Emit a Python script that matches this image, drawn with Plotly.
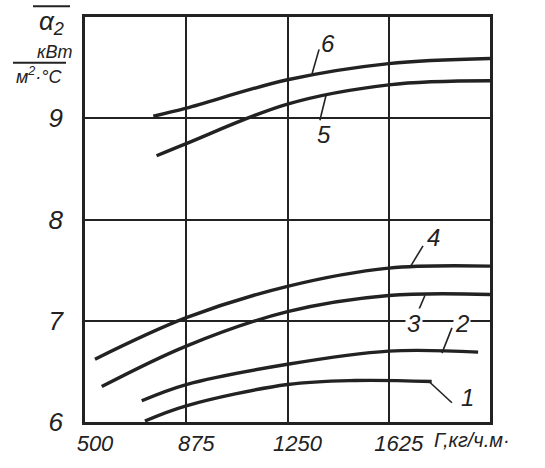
import plotly.graph_objects as go

# Data
x_ticks = [500, 875, 1250, 1625]
y_ticks = [6, 7, 8, 9]

curves = {
    "1": ([722, 875, 1250, 1500, 1784], [6.01, 6.16, 6.37, 6.41, 6.40]),
    "2": ([710, 875, 1250, 1625, 1956], [6.21, 6.37, 6.57, 6.70, 6.69]),
    "3": ([562, 875, 1250, 1625, 2000], [6.35, 6.75, 7.09, 7.25, 7.26]),
    "4": ([537, 875, 1250, 1625, 2000], [6.62, 7.03, 7.34, 7.52, 7.54]),
    "5": ([765, 875, 1250, 1625, 2000], [8.63, 8.75, 9.14, 9.33, 9.37]),
    "6": ([753, 875, 1250, 1625, 2000], [9.02, 9.10, 9.38, 9.54, 9.59]),
}

# label: (leader start x,y), (leader end x,y), (text x,y)
labels = {
    "6": ((1341, 9.44), (1367, 9.68), (1400, 9.74)),
    "5": ((1393, 9.23), (1370, 8.98), (1385, 8.84)),
    "4": ((1704, 7.53), (1752, 7.74), (1789, 7.82)),
    "3": ((1759, 7.25), (1735, 7.10), (1718, 6.97)),
    "2": ((1822, 6.68), (1859, 6.93), (1896, 6.97)),
    "1": ((1778, 6.39), (1859, 6.19), (1915, 6.24)),
}

INK = "#222222"
FONT = "Liberation Sans, Arial, sans-serif"

fig = go.Figure()
for name, (xs, ys) in curves.items():
    fig.add_trace(go.Scatter(x=xs, y=ys, mode="lines", name=name,
                             line=dict(color=INK, width=3.4, shape="spline", smoothing=1.0),
                             showlegend=False, hoverinfo="skip"))

shapes = []
annotations = []
for name, (p0, p1, pt) in labels.items():
    shapes.append(dict(type="line", xref="x", yref="y", x0=p0[0], y0=p0[1], x1=p1[0], y1=p1[1],
                       line=dict(color=INK, width=1.6)))
    ann = dict(x=pt[0], y=pt[1], xref="x", yref="y", text=name, showarrow=False,
               xanchor="center", yanchor="middle",
               font=dict(family=FONT, size=24, color=INK, style="italic"))
    if name in ("3", "2"):
        ann["bgcolor"] = "white"
    annotations.append(ann)

def px2paper(px, py):
    return (px - 85) / 405.0, (433 - py) / 416.0

# axis title (top-left)
ox0, oy = px2paper(33, 6)
ox1, _ = px2paper(70, 6)
shapes.append(dict(type="line", xref="paper", yref="paper", x0=ox0, y0=oy, x1=ox1, y1=oy,
                   line=dict(color=INK, width=2)))
fx0, fy = px2paper(13, 64)
fx1, _ = px2paper(66, 64)
shapes.append(dict(type="line", xref="paper", yref="paper", x0=fx0, y0=fy, x1=fx1, y1=fy,
                   line=dict(color=INK, width=2)))

def title_text(px, py, text, size, anchor="center"):
    ax, ay = px2paper(px, py)
    annotations.append(dict(x=ax, y=ay, xref="paper", yref="paper", text=text, showarrow=False,
                            xanchor=anchor, yanchor="middle",
                            font=dict(family=FONT, size=size, color=INK, style="italic")))

title_text(51, 23, "α<sub>2</sub>", 26)
title_text(55, 53, "кВт", 18)
title_text(39, 77, "м<sup>2</sup>·°С", 18)
# x-axis title
title_text(432, 452, "Г,кг/ч.м·", 20, anchor="left")

fig.update_layout(
    width=545, height=468,
    margin=dict(l=85, r=55, t=17, b=35),
    paper_bgcolor="white", plot_bgcolor="white",
    shapes=shapes, annotations=annotations,
    xaxis=dict(range=[500, 2000], tickvals=x_ticks, ticktext=[str(v) for v in x_ticks],
               showgrid=True, gridcolor=INK, gridwidth=1.5, zeroline=False,
               showline=True, linecolor=INK, linewidth=2.5, mirror=True,
               ticks="", ticklabelshift=10,
               tickfont=dict(family=FONT, size=22, color=INK, style="italic")),
    yaxis=dict(range=[6, 10], tickvals=y_ticks, ticktext=[str(v) for v in y_ticks],
               showgrid=True, gridcolor=INK, gridwidth=1.5, zeroline=False,
               showline=True, linecolor=INK, linewidth=2.5, mirror=True,
               ticks="", ticklabelstandoff=14,
               tickfont=dict(family=FONT, size=26, color=INK, style="italic")),
)

fig.write_html("out.html")
